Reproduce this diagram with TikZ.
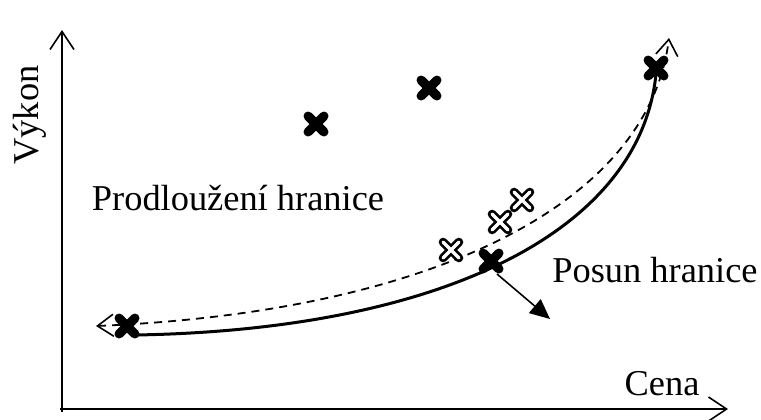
\documentclass[tikz,border=0pt]{standalone}
\usepackage{fontspec}
\setmainfont{Liberation Serif}
\usetikzlibrary{arrows.meta}

\tikzset{
  osa/.style={line width=1pt, -{Straight Barb[length=9pt,width=12pt,line width=0.8pt]}},
  bod/.style={inner sep=0pt, minimum size=7.5pt},
  xcerny/.style={line width=4.6pt, line cap=round},
  xobrys/.style={line width=4.4pt, line cap=round},
  xbily/.style={line width=1.6pt, line cap=round, white},
  popis/.style={font=\fontsize{18.2}{22}\selectfont}
}

\begin{document}
\begin{tikzpicture}[x=0.5pt, y=-0.5pt]
				\useasboundingbox (0,0) rectangle (761,419);
				
				% osy
				\coordinate (O) at (62,409);
				\coordinate (Ytop) at (62,30);
				\coordinate (Xend) at (728,409);
				\draw[osa] (62,412) -- (Ytop);
				\draw[osa] (60,409) -- (Xend);
				\node[popis, rotate=90] (vykon) at (30,115) {Výkon};
				\node[popis] (cena) at (662,384) {Cena};
				
				% body
				\node[bod] (b1) at (127,326) {};
				\node[bod] (b2) at (316,124) {};
				\node[bod] (b3) at (429,88) {};
				\node[bod] (b4) at (491,261) {};
				\node[bod] (b5) at (656,68) {};
				\node[bod] (w1) at (451,250) {};
				\node[bod] (w2) at (500,222) {};
				\node[bod] (w3) at (522,200) {};
				
				% hranice
				\coordinate (s0) at (135,335);
				\coordinate (s1) at (656,74);
				\draw[line width=1.5pt] (s0) .. controls (440,330) and (640,232) .. (s1);
				\coordinate (d0) at (96,326);
				\coordinate (d1) at (669,38);
				\draw[line width=0.9pt, dash pattern=on 4pt off 3pt, {Straight Barb[length=8pt,width=11pt,line width=0.8pt]}-{Straight Barb[length=8pt,width=11pt,line width=0.8pt]}]
				  (d0) .. controls (430,312) and (648,205) .. (d1);
				
				% krizky
				\foreach \n in {b1,b2,b3,b4,b5}
				  \draw[xcerny] (\n.north west) -- (\n.south east) (\n.north east) -- (\n.south west);
				\foreach \n in {w1,w2,w3} {
				  \draw[xobrys] (\n.north west) -- (\n.south east) (\n.north east) -- (\n.south west);
				  \draw[xbily] (\n.north west) -- (\n.south east) (\n.north east) -- (\n.south west);
				}
				
				% posun
				\coordinate (p1) at (550,319);
				\draw[line width=0.8pt, -{Triangle[length=10pt,width=9pt]}] ([shift={(6,13)}]b4.center) -- (p1);
				
				\node[popis] (prodl) at (238,198) {Prodloužení hranice};
				\node[popis] (posun) at (655,270) {Posun hranice};
			\end{tikzpicture}
\end{document}
